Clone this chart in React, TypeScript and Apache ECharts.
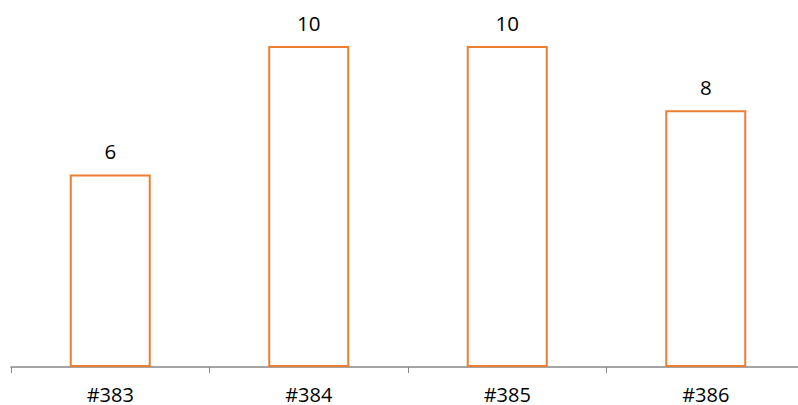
import React, { useEffect, useRef } from "react";
import * as echarts from "echarts";

const categories = ["#383", "#384", "#385", "#386"];
const values = [6, 10, 10, 8];

export default function App() {
  const ref = useRef<HTMLDivElement>(null);
  useEffect(() => {
    const chart = echarts.init(ref.current!, null, { renderer: "svg" });
    chart.setOption({
      animation: false,
      grid: { left: 11, top: 46, width: 794, height: 321, containLabel: false },
      xAxis: {
        type: "category",
        data: categories,
        axisLine: { show: true, lineStyle: { color: "#868686", width: 1.5 } },
        axisTick: { show: true, length: 6, lineStyle: { color: "#868686" } },
        axisLabel: { color: "#000", fontSize: 20, fontFamily: "Open Sans", margin: 17 },
      },
      yAxis: {
        type: "value",
        min: 0,
        max: 10,
        show: false,
        splitLine: { show: false },
      },
      series: [
        {
          type: "bar",
          data: values,
          barWidth: 81,
          itemStyle: { color: "#ffffff", borderColor: "#ED7D31", borderWidth: 2 },
          label: {
            show: true,
            position: "top",
            distance: 13,
            color: "#000",
            fontSize: 20.5,
            fontFamily: "Open Sans",
          },
        },
      ],
    });
    return () => chart.dispose();
  }, []);
  return (
    <div style={{ width: 798, height: 405, position: "absolute", left: 0, top: 0, overflow: "hidden" }}>
      <div ref={ref} style={{ width: 810, height: 405 }} />
    </div>
  );
}
